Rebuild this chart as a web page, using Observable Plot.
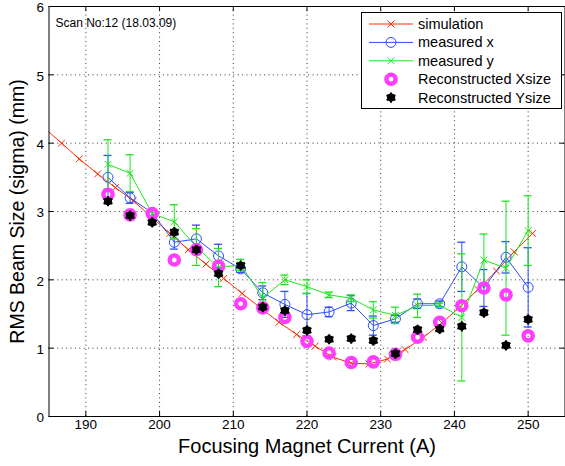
<!DOCTYPE html>
<html><head><meta charset="utf-8">
<script src="https://cdn.jsdelivr.net/npm/d3@7"></script>
<script src="https://cdn.jsdelivr.net/npm/@observablehq/plot@0.6"></script>
<style>
body{margin:0;background:#fff;}
#chart{width:565px;height:466px;}
</style></head><body><div id="chart"></div>
<script>
// ---- data ----
const simCurrent = [184.2, 186.7, 189.1, 191.6, 194.0, 196.4, 198.9, 201.4, 203.9, 206.3, 208.7, 211.2, 213.7, 216.2, 218.6, 221.1, 223.5, 226.0, 228.4, 230.9, 233.3, 235.8, 238.3, 240.7, 243.2, 245.7, 248.1, 250.6];
const simSize    = [4.24, 4.00, 3.77, 3.55, 3.35, 3.16, 2.92, 2.68, 2.44, 2.23, 2.02, 1.80, 1.59, 1.38, 1.20, 1.03, 0.87, 0.78, 0.77, 0.84, 0.98, 1.16, 1.37, 1.60, 1.86, 2.13, 2.41, 2.68];

const current   = [193, 196, 199, 202, 205, 208, 211, 214, 217, 220, 223, 226, 229, 232, 235, 238, 241, 244, 247, 250];
const measX     = [3.50, 3.20, 2.98, 2.55, 2.60, 2.35, 2.16, 1.81, 1.64, 1.49, 1.53, 1.66, 1.33, 1.43, 1.65, 1.65, 2.19, 1.88, 2.33, 1.89];
const measXErr  = [0.32, 0.08, 0.05, 0.10, 0.20, 0.17, 0.05, 0.10, 0.19, 0.31, 0.07, 0.11, 0.14, 0.05, 0.07, 0.04, 0.36, 0.27, 0.23, 0.58];
const measY     = [3.69, 3.56, 2.97, 2.85, 2.48, 2.18, 2.22, 1.74, 2.00, 1.90, 1.78, 1.73, 1.56, 1.48, 1.62, 1.63, 1.45, 2.29, 2.17, 2.72];
const measYErr  = [0.36, 0.27, 0.05, 0.25, 0.27, 0.28, 0.08, 0.22, 0.07, 0.10, 0.04, 0.05, 0.12, 0.12, 0.17, 0.03, 0.93, 0.38, 0.98, 0.51];
const reconX    = [3.25, 2.95, 2.97, 2.29, 2.44, 2.20, 1.65, 1.59, 1.45, 1.10, 0.93, 0.79, 0.80, 0.91, 1.16, 1.38, 1.62, 1.88, 1.78, 1.18];
const reconY    = [3.15, 2.94, 2.84, 2.70, 2.44, 2.09, 2.21, 1.60, 1.55, 1.26, 1.13, 1.14, 1.11, 0.92, 1.27, 1.28, 1.32, 1.52, 1.04, 1.42];

const xTicks = [190, 200, 210, 220, 230, 240, 250];
const yTicks = [0, 1, 2, 3, 4, 5, 6];
const legendLabels = ["simulation", "measured x", "measured y", "Reconstructed Xsize", "Reconstructed Ysize"];
const scanLabel = "Scan No:12 (18.03.09)";
const xLabel = "Focusing Magnet Current (A)";
const yLabel = "RMS Beam Size (sigma) (mm)";

// ---- styling ----
const FONT = "'Liberation Sans', Arial, Helvetica, sans-serif";
const RED = "#ff2a00", BLUE = "#2b4cff", GREEN = "#1ee61e", MAG = "#ff3cff";

const sim = simCurrent.map((c, i) => ({c, s: simSize[i]}));
const rows = current.map((c, i) => ({
  c, mx: measX[i], mxe: measXErr[i], my: measY[i], mye: measYErr[i], rx: reconX[i], ry: reconY[i]
}));

function errorMarks(key, errKey, color, symbol) {
  return [
    Plot.ruleX(rows, {x: "c", y1: d => d[key] - d[errKey], y2: d => d[key] + d[errKey], stroke: color, strokeWidth: 1}),
    Plot.ruleY(rows, {y: d => d[key] + d[errKey], x1: "c", x2: "c", insetLeft: -4, insetRight: -4, stroke: color, strokeWidth: 1.3}),
    Plot.ruleY(rows, {y: d => d[key] - d[errKey], x1: "c", x2: "c", insetLeft: -4, insetRight: -4, stroke: color, strokeWidth: 1.3}),
    Plot.line(rows, {x: "c", y: key, stroke: color, strokeWidth: 1}),
    symbol === "circle"
      ? Plot.dot(rows, {x: "c", y: key, r: 5, stroke: color, fill: "none", strokeWidth: 1})
      : Plot.dot(rows, {x: "c", y: key, symbol: "times", r: 3.2, stroke: color, strokeWidth: 1})
  ];
}

const fmt = d3.format("d");
const chart = Plot.plot({
  width: 565, height: 466,
  marginLeft: 48.5, marginRight: 0.5, marginTop: 6, marginBottom: 50,
  style: {fontFamily: FONT, fontSize: "13.5px", color: "black", background: "white"},
  x: {domain: [185, 255]},
  y: {domain: [0, 6]},
  marks: [
    // dotted grid
    Plot.ruleX(xTicks, {y1: 0, y2: 6, stroke: "#333", strokeDasharray: "1,3.4", strokeWidth: 1}),
    Plot.ruleY(yTicks.filter(v => v > 0 && v < 6), {x1: 185, x2: 255, stroke: "#333", strokeDasharray: "1,3.4", strokeWidth: 1}),
    // inward ticks on all four sides
    Plot.ruleX(xTicks, {y1: 0, y2: 0, insetTop: -5, stroke: "black"}),
    Plot.ruleX(xTicks, {y1: 6, y2: 6, insetBottom: -5, stroke: "black"}),
    Plot.ruleY(yTicks, {x1: 185, x2: 185, insetRight: -5, stroke: "black"}),
    Plot.ruleY(yTicks, {x1: 255, x2: 255, insetLeft: -5, stroke: "black"}),
    Plot.axisX(xTicks, {tickSize: 0, tickPadding: 3, label: null, fontSize: 13.5, tickFormat: fmt}),
    Plot.axisY(yTicks, {tickSize: 0, tickPadding: 5, label: null, fontSize: 13.5, tickFormat: fmt, dy: 1.5}),
    // simulation
    Plot.line(sim, {x: "c", y: "s", stroke: RED, strokeWidth: 1, clip: true}),
    Plot.dot(sim, {x: "c", y: "s", symbol: "times", r: 3.2, stroke: RED, strokeWidth: 1, clip: true}),
    // measured x and y
    ...errorMarks("mx", "mxe", BLUE, "circle"),
    ...errorMarks("my", "mye", GREEN, "times"),
    // reconstructed sizes
    Plot.dot(rows, {x: "c", y: "rx", r: 4.6, stroke: MAG, strokeWidth: 4.4, fill: "none"}),
    Plot.dot(rows, {x: "c", y: "ry", r: 4.1, fill: "black", stroke: "none"}),
    Plot.dot(rows, {x: "c", y: "ry", symbol: "asterisk", r: 4.8, stroke: "black", strokeWidth: 2}),
    Plot.frame({stroke: "black", strokeWidth: 1}),
    // texts
    Plot.text([scanLabel], {frameAnchor: "top-left", dx: 6.5, dy: 12, textAnchor: "start", fontSize: 12}),
    Plot.text([xLabel], {frameAnchor: "bottom", dy: 36, textAnchor: "middle", fontSize: 20}),
    Plot.text([yLabel], {frameAnchor: "left", dx: -31.5, rotate: -90, textAnchor: "middle", fontSize: 19.5})
  ]
});
document.getElementById("chart").appendChild(chart);

// ---- legend (inside the plot, top right) ----
const svg = d3.select(chart);
const lg = svg.append("g").attr("font-family", FONT).attr("font-size", 14.5).attr("text-anchor", "start");
lg.append("rect").attr("x", 361.5).attr("y", 12.5).attr("width", 200).attr("height", 96)
  .attr("fill", "white").attr("stroke", "black").attr("stroke-width", 1);
const timesPath = d3.symbol(d3.symbolTimes, Math.PI * 3.2 * 3.2)();
const astPath = d3.symbol(d3.symbolAsterisk, Math.PI * 4.8 * 4.8)();
legendLabels.forEach((label, i) => {
  const y = 24 + i * 18.4;
  const g = lg.append("g");
  if (i < 3) {
    const col = [RED, BLUE, GREEN][i];
    g.append("line").attr("x1", 369).attr("x2", 413).attr("y1", y).attr("y2", y).attr("stroke", col);
    if (i === 1) g.append("circle").attr("cx", 391).attr("cy", y).attr("r", 5).attr("fill", "none").attr("stroke", col);
    else g.append("path").attr("d", timesPath).attr("transform", `translate(391,${y})`).attr("stroke", col).attr("fill", "none");
  } else if (i === 3) {
    g.append("circle").attr("cx", 391).attr("cy", y).attr("r", 4.6).attr("fill", "none").attr("stroke", MAG).attr("stroke-width", 4.4);
  } else {
    g.append("circle").attr("cx", 391).attr("cy", y).attr("r", 4.1).attr("fill", "black");
    g.append("path").attr("d", astPath).attr("transform", `translate(391,${y})`).attr("stroke", "black").attr("stroke-width", 2);
  }
  g.append("text").attr("x", 418).attr("y", y).attr("dy", "0.35em").attr("fill", "black").attr("text-anchor", "start").text(label);
});
</script>
</body></html>
